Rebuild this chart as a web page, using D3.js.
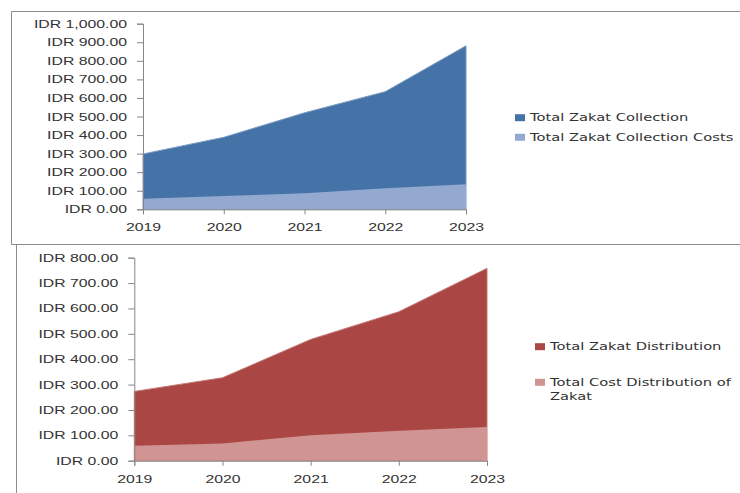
<!DOCTYPE html>
<html>
<head>
<meta charset="utf-8">
<script src="https://cdn.jsdelivr.net/npm/d3@7"></script>
<style>
  body { margin: 0; background: #fff; }
  svg { display: block; font-family: "DejaVu Sans", sans-serif; }
  .tick text { fill: #333; }
</style>
</head>
<body>
<script>
var years = [2019, 2020, 2021, 2022, 2023];

// top chart (collection)
var collection = [298, 388, 520, 634, 881];
var collectionCosts = [57, 72, 86, 113, 135];
var collectionTicks = [0, 100, 200, 300, 400, 500, 600, 700, 800, 900, 1000];
var collectionLabels = ["Total Zakat Collection", "Total Zakat Collection Costs"];

// bottom chart (distribution)
var distribution = [273, 327, 478, 587, 758];
var distributionCosts = [59, 68, 100, 118, 133];
var distributionTicks = [0, 100, 200, 300, 400, 500, 600, 700, 800];
var distributionLabels = ["Total Zakat Distribution", ["Total Cost Distribution of", "Zakat"]];

(function() {
  var width = 740;
  var height = 493;
  var stretch = 1.58; // the picture's text is wide, stretch glyphs sideways

  var svg = d3.select("body")
    .append("svg")
    .attr("width", width)
    .attr("height", height);

  // frames round the two charts
  var frame = svg.append("g").attr("stroke", "#8c8c8c").attr("fill", "none");
  frame.append("path").attr("d", "M11.5,244.5 V11.5 H740");
  frame.append("path").attr("d", "M11.5,244.5 H740");
  frame.append("path").attr("d", "M16.5,244.5 V493");

  var fmt = d3.format(",.2f");

  function drawChart(opt) {
    var x = d3.scalePoint().domain(years).range(opt.xRange);
    var y = d3.scaleLinear().domain([0, d3.max(opt.ticks)]).range(opt.yRange);

    var area = d3.area()
      .x(function(d, i) { return x(years[i]) })
      .y0(y(0))
      .y1(function(d) { return y(d) });

    var g = svg.append("g");

    g.append("path")
      .datum(opt.big)
      .attr("d", area)
      .attr("fill", opt.colors[0])
      .attr("stroke", opt.edges[0])
      .attr("stroke-width", 1);
    g.append("path")
      .datum(opt.small)
      .attr("d", area)
      .attr("fill", opt.colors[1]);

    var yAxis = g.append("g")
      .attr("transform", "translate(" + opt.xRange[0] + ",0)")
      .call(d3.axisLeft(y).tickValues(opt.ticks).tickSize(6).tickFormat(function(d) { return "IDR " + fmt(d) }));
    yAxis.selectAll("text")
      .attr("x", -16 / stretch)
      .attr("dy", "0.35em")
      .attr("transform", "scale(" + stretch + ",1)")
      .style("font-size", "10px");

    var xAxis = g.append("g")
      .attr("transform", "translate(0," + opt.yRange[0] + ")")
      .call(d3.axisBottom(x).tickSize(5).tickFormat(d3.format("d")));
    xAxis.selectAll("text")
      .attr("y", 18.5)
      .attr("dy", "0.35em")
      .attr("transform", "scale(" + stretch + ",1)")
      .style("font-size", "10px");

    [yAxis, xAxis].forEach(function(a) {
      a.select(".domain").attr("stroke", "#868686");
      a.selectAll(".tick line").attr("stroke", "#868686");
    });

    // legend
    var leg = g.append("g").attr("transform", "translate(" + opt.legend[0] + "," + opt.legend[1] + ")");
    opt.labels.forEach(function(lab, i) {
      var row = leg.append("g").attr("transform", "translate(0," + opt.legend[2] * i + ")");
      row.append("rect")
        .attr("x", 0).attr("y", -3.5)
        .attr("width", 10).attr("height", 7)
        .attr("fill", opt.colors[i]);
      var lines = Array.isArray(lab) ? lab : [lab];
      lines.forEach(function(t, j) {
        row.append("text")
          .attr("transform", "translate(15," + (j * 14) + ") scale(1.4,1)")
          .attr("dy", "0.35em")
          .style("font-size", "10.5px")
          .attr("fill", "#333")
          .text(t);
      });
    });
  }

  drawChart({
    big: collection, small: collectionCosts, ticks: collectionTicks, labels: collectionLabels,
    xRange: [143, 466], yRange: [209.3, 23.7],
    colors: ["#4572A7", "#93A9CF"], edges: ["#7b9cc4"],
    legend: [515, 117.7, 19.6]
  });

  drawChart({
    big: distribution, small: distributionCosts, ticks: distributionTicks, labels: distributionLabels,
    xRange: [134.3, 487], yRange: [460.7, 257.7],
    colors: ["#AA4643", "#D09493"], edges: ["#c47a77"],
    legend: [535, 346.7, 35.6]
  });
})();
</script>
</body>
</html>
